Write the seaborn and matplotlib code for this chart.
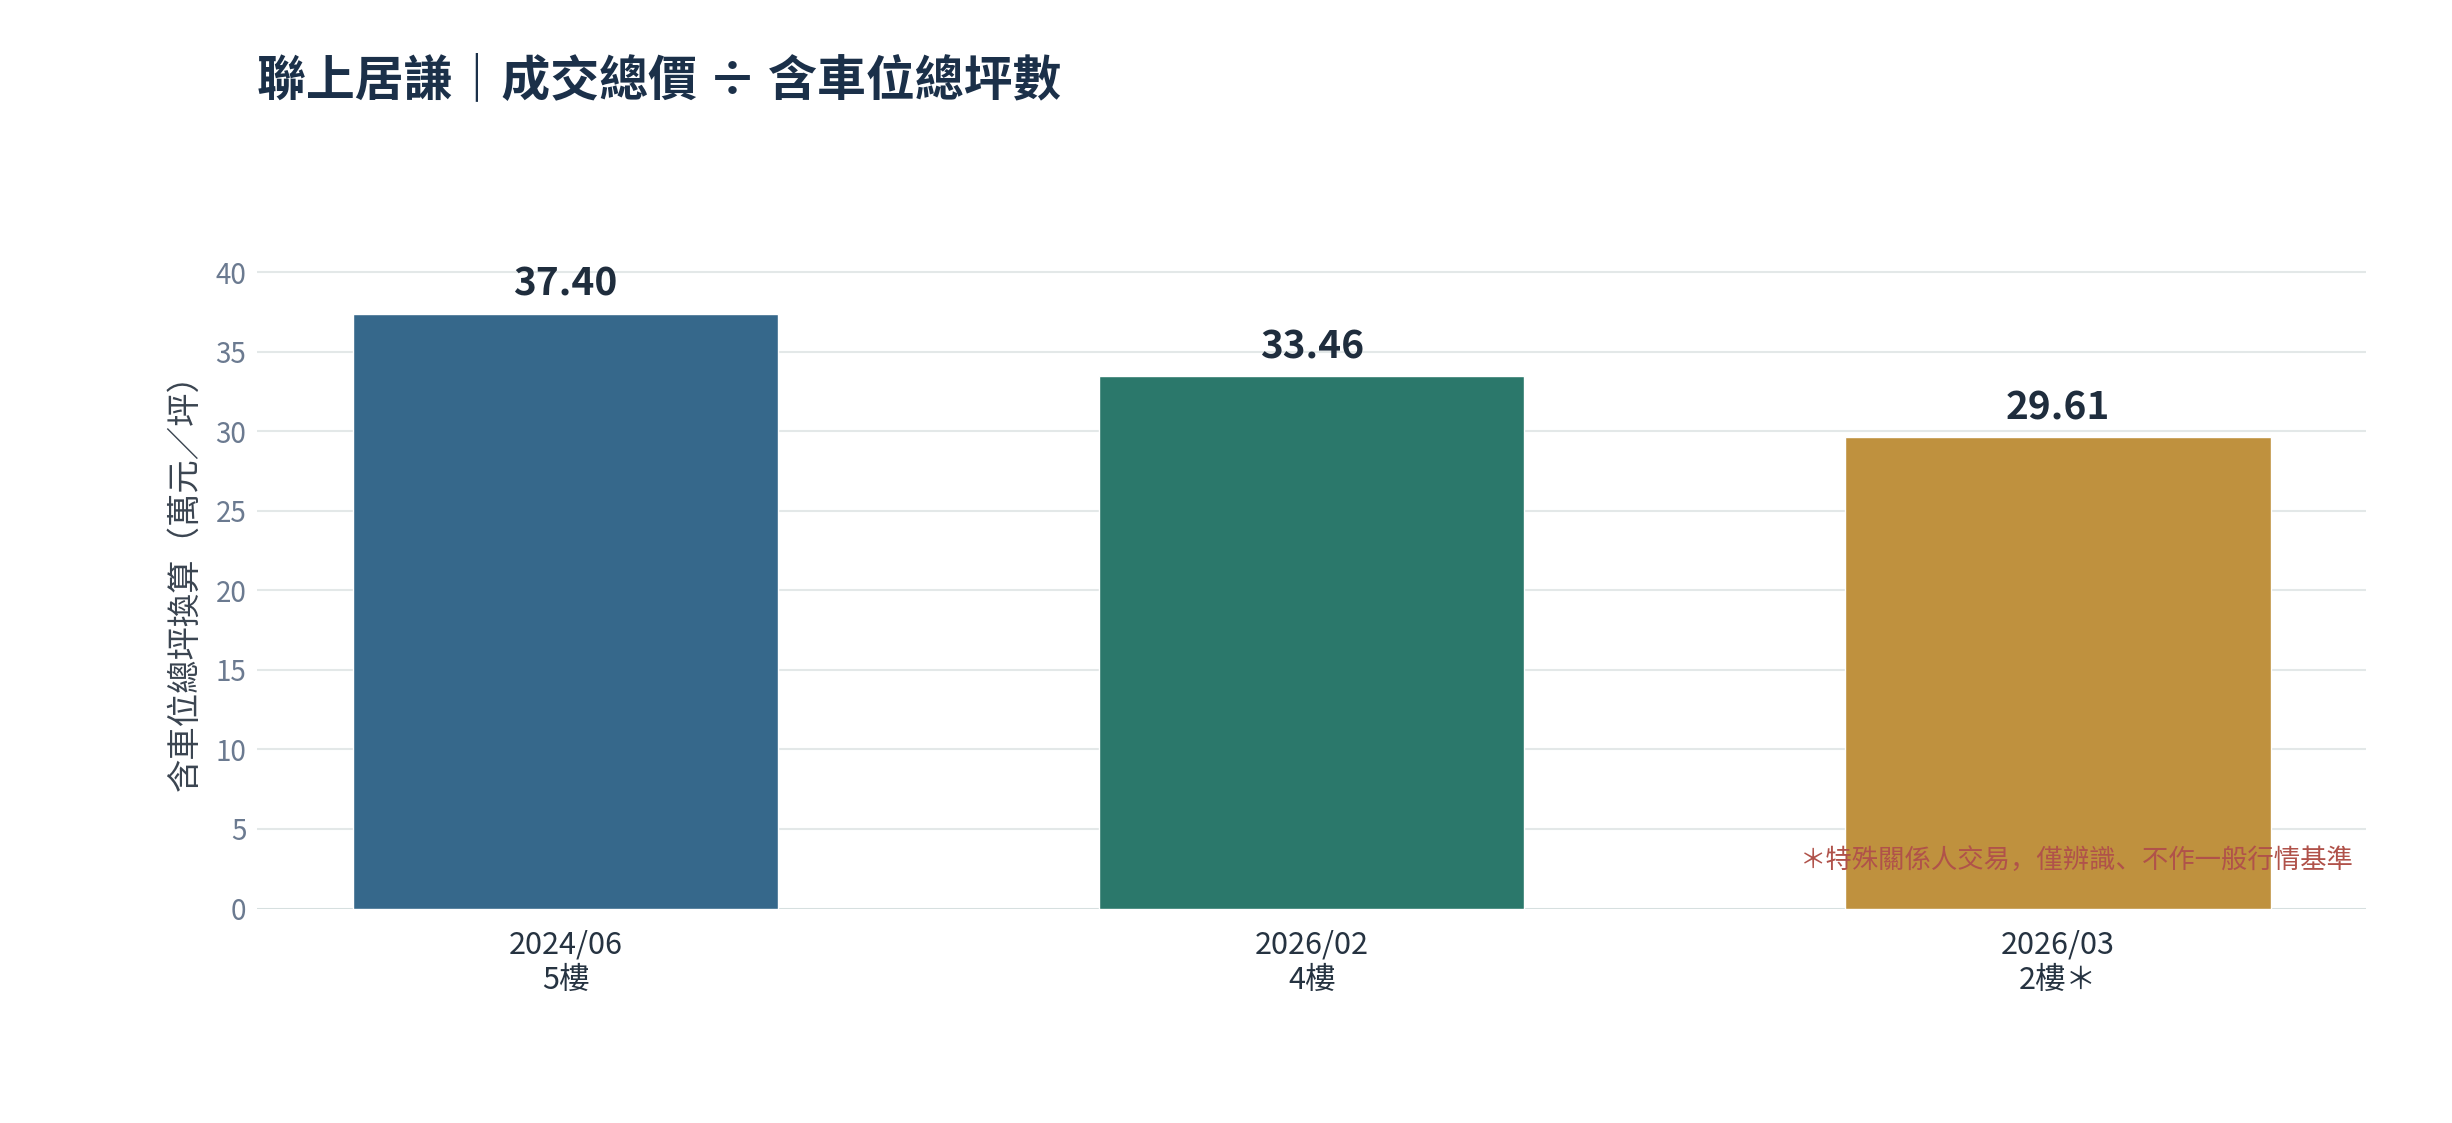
import matplotlib
matplotlib.use("Agg")
import matplotlib.pyplot as plt
import seaborn as sns
import pandas as pd

# data
dates = ["2024/06", "2026/02", "2026/03"]
floors = ["5樓", "4樓", "2樓＊"]
values = [37.40, 33.46, 29.61]
bar_colors = ["#36688b", "#2b786b", "#bf913e"]

title = "聯上居謙｜成交總價 ÷ 含車位總坪數"
ylabel = "含車位總坪換算（萬元／坪）"
note = "＊特殊關係人交易，僅辨識、不作一般行情基準"

sns.set_theme(style="white")
plt.rcParams["font.family"] = ["Noto Sans CJK SC", "DejaVu Sans"]

labels = [d + "\n" + f for d, f in zip(dates, floors)]
df = pd.DataFrame({"label": labels, "value": values})

fig = plt.figure(figsize=(24.52, 11.23), dpi=100)
ax = fig.add_axes([0.105, 0.191, 0.860, 0.595])

sns.barplot(data=df, x="label", y="value", hue="label", palette=bar_colors,
            width=0.57, saturation=1, legend=False, ax=ax, zorder=3)

ax.set_xlim(-0.413, 2.413)
ax.set_ylim(0, 42)
ax.set_yticks(range(0, 41, 5))
ax.grid(axis="y", color="#e3e8e8", linewidth=1.5, zorder=0)
ax.axhline(0, color="#d5dede", linewidth=2, zorder=2)
for s in ax.spines.values():
    s.set_visible(False)

ax.tick_params(axis="y", labelsize=20, labelcolor="#6b7a90", length=0, pad=8)
ax.tick_params(axis="x", labelsize=22, labelcolor="#263341", length=0, pad=15)
for t in ax.get_xticklabels():
    t.set_linespacing(1.2)

ax.set_xlabel("")
ax.set_ylabel(ylabel, fontsize=24, color="#3a4450", labelpad=9)

for i, v in enumerate(values):
    ax.annotate(f"{v:.2f}", (i, v), xytext=(0, 7), textcoords="offset points",
                ha="center", va="bottom", fontsize=28, fontweight="bold",
                color="#1f2d3d", zorder=5)

ax.text(0.994, 3.0, note, transform=ax.get_yaxis_transform(), ha="right",
        va="center", fontsize=19, color="#b0524a", zorder=5)

fig.text(0.105, 0.928, title, ha="left", va="center", fontsize=35.2,
         fontweight="bold", color="#1b3049")

fig.savefig("out.png", dpi=100, facecolor="white")
